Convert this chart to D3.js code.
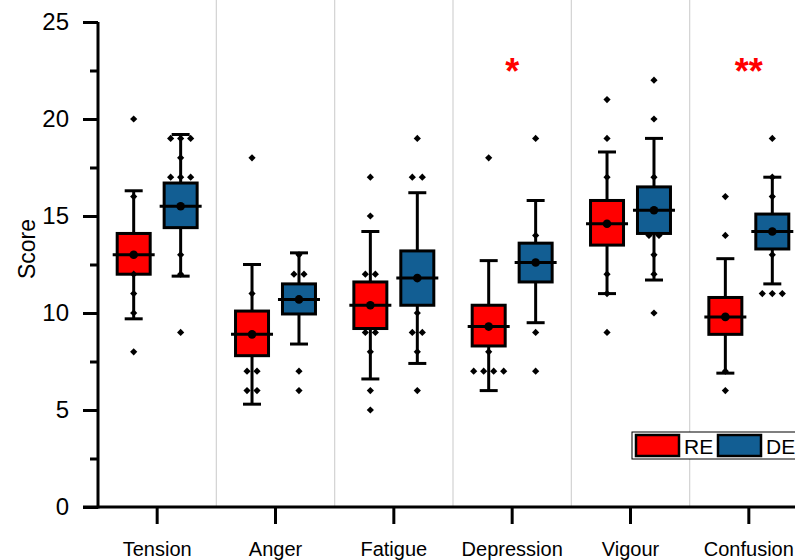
<!DOCTYPE html>
<html>
<head>
<meta charset="utf-8">
<script src="https://cdn.jsdelivr.net/npm/d3@7"></script>
<style>
  body { margin: 0; background: #fff; }
  svg { font-family: Arial, "Liberation Sans", sans-serif; }
</style>
</head>
<body>
<div id="chart"></div>
<script>
const categories = ['Tension', 'Anger', 'Fatigue', 'Depression', 'Vigour', 'Confusion'];
const groups = ['RE', 'DE'];
const groupColors = ['#ff0000', '#125e93'];
const yTicks = [0, 5, 10, 15, 20, 25];
const yMinorTicks = [2.5, 7.5, 12.5, 17.5, 22.5];
const sigLabels = ['', '', '', '*', '', '**'];

// box stats per group, one value per category
const reLow    = [9.7, 5.3, 6.6, 6.0, 11.0, 6.9];
const reQ1     = [12.0, 7.8, 9.2, 8.3, 13.5, 8.9];
const reMedian = [13.0, 8.9, 10.4, 9.3, 14.6, 9.8];
const reMean   = [13.0, 8.9, 10.4, 9.3, 14.6, 9.8];
const reQ3     = [14.1, 10.1, 11.6, 10.4, 15.8, 10.8];
const reHigh   = [16.3, 12.5, 14.2, 12.7, 18.3, 12.8];

const deLow    = [11.9, 8.4, 7.4, 9.5, 11.7, 11.5];
const deQ1     = [14.4, 9.95, 10.4, 11.6, 14.1, 13.3];
const deMedian = [15.5, 10.7, 11.8, 12.6, 15.3, 14.2];
const deMean   = [15.5, 10.7, 11.8, 12.6, 15.3, 14.2];
const deQ3     = [16.7, 11.5, 13.2, 13.6, 16.5, 15.1];
const deHigh   = [19.2, 13.1, 16.2, 15.8, 19.0, 17.0];

// individual scores visible outside / on the boxes
const rePoints = [
  [20, 16, 12, 11, 10, 8],
  [18, 11, 7, 7, 6, 6],
  [17, 15, 12, 12, 9, 9, 8, 6, 5],
  [18, 8, 7, 7, 7, 7],
  [21, 19, 17, 12, 11, 9],
  [16, 14, 7, 6]
];
const dePoints = [
  [19, 19, 19, 18, 17, 17, 17, 13, 12, 9],
  [13, 12, 12, 7, 6],
  [19, 17, 17, 10, 9, 9, 8, 6],
  [19, 14, 9, 7],
  [22, 20, 17, 14, 14, 13, 12, 10],
  [19, 17, 16, 13, 11, 11, 11]
];

const margin = { left: 98, right: 0, top: 22, bottom: 53 };
const width = 710, height = 485;
const font = 'Arial, "Liberation Sans", sans-serif';

const svg = d3.select('#chart').append('svg')
  .attr('width', 795)
  .attr('height', 560);

const g = svg.append('g')
  .attr('transform', 'translate(' + margin.left + ',' + margin.top + ')');

const x = d3.scaleBand().domain(categories).range([0, width]);
const xSub = d3.scalePoint().domain(groups).range([0, x.bandwidth()]).padding(0.76);
const y = d3.scaleLinear().domain([0, 25]).range([height, 0]);

// vertical separators between categories
g.selectAll('.sep')
  .data(categories.slice(1))
  .enter().append('line')
  .attr('x1', d => x(d)).attr('x2', d => x(d))
  .attr('y1', -margin.top).attr('y2', height)
  .attr('stroke', '#d2d2d2').attr('stroke-width', 1.2);

// build box data
const boxes = [];
categories.forEach((c, i) => {
  boxes.push({ cat: c, grp: 'RE', color: groupColors[0], low: reLow[i], q1: reQ1[i], med: reMedian[i], mean: reMean[i], q3: reQ3[i], high: reHigh[i], pts: rePoints[i] });
  boxes.push({ cat: c, grp: 'DE', color: groupColors[1], low: deLow[i], q1: deQ1[i], med: deMedian[i], mean: deMean[i], q3: deQ3[i], high: deHigh[i], pts: dePoints[i] });
});

const boxW = 33, capW = 18, medW = 42;

const bg = g.selectAll('.box')
  .data(boxes)
  .enter().append('g')
  .attr('class', 'box')
  .attr('transform', d => 'translate(' + (x(d.cat) + xSub(d.grp)) + ',0)');

bg.append('line')
  .attr('x1', 0).attr('x2', 0)
  .attr('y1', d => y(d.high)).attr('y2', d => y(d.low))
  .attr('stroke', '#000').attr('stroke-width', 3);

bg.append('line')
  .attr('x1', -capW / 2).attr('x2', capW / 2)
  .attr('y1', d => y(d.high)).attr('y2', d => y(d.high))
  .attr('stroke', '#000').attr('stroke-width', 3);

bg.append('line')
  .attr('x1', -capW / 2).attr('x2', capW / 2)
  .attr('y1', d => y(d.low)).attr('y2', d => y(d.low))
  .attr('stroke', '#000').attr('stroke-width', 3);

bg.append('rect')
  .attr('x', -boxW / 2).attr('width', boxW)
  .attr('y', d => y(d.q3)).attr('height', d => y(d.q1) - y(d.q3))
  .attr('fill', d => d.color)
  .attr('stroke', '#000').attr('stroke-width', 3);

bg.append('line')
  .attr('x1', -medW / 2).attr('x2', medW / 2)
  .attr('y1', d => y(d.med)).attr('y2', d => y(d.med))
  .attr('stroke', '#000').attr('stroke-width', 3);

bg.append('circle')
  .attr('r', 4.3)
  .attr('cy', d => y(d.mean))
  .attr('fill', '#000');

// scatter points, duplicates spread sideways
bg.each(function(d) {
  const counts = d3.rollup(d.pts, v => v.length, v => v);
  const seen = new Map();
  const pts = d.pts.map(v => {
    const n = counts.get(v), k = seen.get(v) || 0;
    seen.set(v, k + 1);
    return { v: v, dx: (k - (n - 1) / 2) * 10 };
  });
  d3.select(this).selectAll('.pt')
    .data(pts)
    .enter().append('path')
    .attr('class', 'pt')
    .attr('d', d3.symbol().type(d3.symbolSquare).size(26))
    .attr('transform', p => 'translate(' + p.dx + ',' + y(p.v) + ') rotate(45)')
    .attr('fill', '#000');
});

// significance marks
g.selectAll('.sig')
  .data(categories)
  .enter().append('text')
  .attr('x', d => x(d) + x.bandwidth() / 2)
  .attr('y', y(21.8))
  .attr('text-anchor', 'middle')
  .attr('fill', '#ff0000')
  .attr('font-size', 36)
  .attr('font-weight', 'bold')
  .text((d, i) => sigLabels[i]);

// axes
const yAxis = g.append('g')
  .call(d3.axisLeft(y).tickValues(yTicks).tickSize(15).tickPadding(14));
yAxis.attr('font-family', font).attr('font-size', 24);
yAxis.select('.domain').remove();
yAxis.selectAll('line').attr('stroke-width', 3);
yAxis.selectAll('text').attr('fill', '#000');

const yMinor = g.append('g')
  .call(d3.axisLeft(y).tickValues(yMinorTicks).tickSize(8).tickFormat(''));
yMinor.select('.domain').remove();
yMinor.selectAll('line').attr('stroke-width', 3);

g.append('line')
  .attr('x1', 0).attr('x2', 0)
  .attr('y1', y(25)).attr('y2', height + 1.5)
  .attr('stroke', '#000').attr('stroke-width', 3);

const xAxis = g.append('g')
  .attr('transform', 'translate(0,' + height + ')')
  .call(d3.axisBottom(x).tickSize(17).tickPadding(18));
xAxis.attr('font-family', font).attr('font-size', 20);
xAxis.select('.domain').remove();
xAxis.selectAll('line').attr('stroke-width', 3);
xAxis.selectAll('text').attr('fill', '#000');

g.append('line')
  .attr('x1', -15).attr('x2', width)
  .attr('y1', height).attr('y2', height)
  .attr('stroke', '#000').attr('stroke-width', 3);

svg.append('text')
  .attr('transform', 'translate(35,' + (margin.top + y(13.3)) + ') rotate(-90)')
  .attr('text-anchor', 'middle')
  .attr('font-size', 23)
  .text('Score');

// legend
const lg = svg.append('g').attr('transform', 'translate(632,432)');
lg.append('rect')
  .attr('width', 180).attr('height', 27)
  .attr('fill', '#fff').attr('stroke', '#000').attr('stroke-width', 1);
const li = lg.selectAll('.li')
  .data(groups)
  .enter().append('g')
  .attr('transform', (d, i) => 'translate(' + (4 + i * 82) + ',3)');
li.append('rect')
  .attr('width', 43).attr('height', 21)
  .attr('fill', (d, i) => groupColors[i])
  .attr('stroke', '#000').attr('stroke-width', 2.5);
li.append('text')
  .attr('x', 48).attr('y', 19)
  .attr('font-size', 21)
  .text(d => d);
</script>
</body>
</html>
